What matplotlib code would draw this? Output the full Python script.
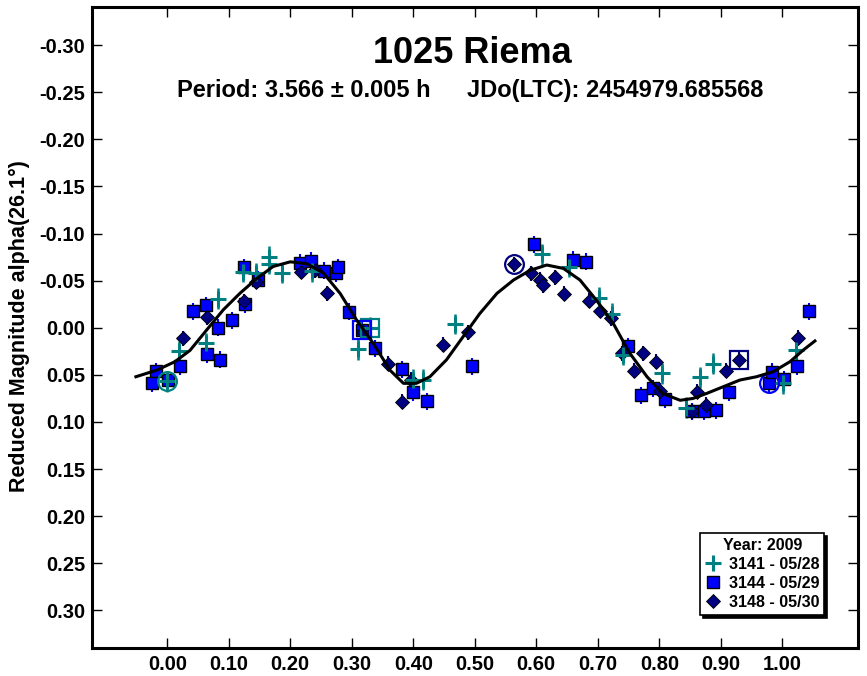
import matplotlib
matplotlib.use('Agg')
import matplotlib.pyplot as plt
from matplotlib.lines import Line2D
from matplotlib.ticker import FormatStrFormatter

# 3141 - 05/28 (teal plus)
ph_3141 = [0.000, 0.0195, 0.063, 0.082, 0.1225, 0.144, 0.165, 0.165, 0.186, 0.235,
           0.310, 0.330, 0.400, 0.416, 0.468, 0.610, 0.653, 0.702, 0.7235, 0.741,
           0.804, 0.8435, 0.866, 0.887, 1.0016, 1.023]
mag_3141 = [0.057, 0.025, 0.0166, -0.031, -0.0595, -0.058, -0.0754, -0.068, -0.058, -0.060,
            0.023, 0.000, 0.055, 0.055, -0.004, -0.078, -0.065, -0.032, -0.015, 0.029,
            0.0485, 0.085, 0.0527, 0.038, 0.059, 0.0237]
err_3141 = 0.011

# 3144 - 05/29 (blue square)
ph_3144 = [-0.019, -0.025, 0.0017, 0.021, 0.042, 0.063, 0.083, 0.065, 0.085, 0.106,
           0.126, 0.124, 0.147, 0.215, 0.234, 0.255, 0.275, 0.278, 0.296, 0.316,
           0.338, 0.381, 0.400, 0.422, 0.495, 0.597, 0.659, 0.680, 0.7495, 0.770,
           0.7895, 0.810, 0.853, 0.872, 0.892, 0.914, 0.978, 0.983, 1.003, 1.0245, 1.044]
mag_3144 = [0.046, 0.059, 0.0555, 0.0407, -0.0177, -0.024, 0.000, 0.028, 0.034, -0.008,
            -0.025, -0.064, -0.051, -0.069, -0.071, -0.0605, -0.058, -0.064, -0.017, 0.0024,
            0.022, 0.044, 0.0686, 0.078, 0.0407, -0.0886, -0.072, -0.070, 0.0194, 0.0715,
            0.064, 0.076, 0.0885, 0.0885, 0.0874, 0.0686, 0.059, 0.0467, 0.0545, 0.0407, -0.0177]
err_3144 = 0.009

# 3148 - 05/30 (navy diamond)
ph_3148 = [0.025, 0.064, 0.125, 0.145, 0.2175, 0.240, 0.259, 0.319, 0.359, 0.381,
           0.397, 0.449, 0.489, 0.564, 0.591, 0.606, 0.611, 0.630, 0.645, 0.686,
           0.704, 0.721, 0.740, 0.759, 0.774, 0.7945, 0.801, 0.853, 0.862, 0.876,
           0.908, 0.930, 1.025]
mag_3148 = [0.011, -0.011, -0.028, -0.049, -0.0595, -0.061, -0.0365, 0.004, 0.038, 0.0786,
            0.055, 0.018, 0.005, -0.0676, -0.058, -0.051, -0.045, -0.0535, -0.036, -0.0287,
            -0.018, -0.010, 0.027, 0.0456, 0.027, 0.036, 0.067, 0.0885, 0.068, 0.082,
            0.0456, 0.034, 0.0106]
err_3148 = 0.008

# first / last point of each session
first_pts = {'3141': (0.000, 0.057), '3144': (0.978, 0.059), '3148': (0.564, -0.0676)}
last_pts = {'3141': (0.330, 0.000), '3144': (0.316, 0.0024), '3148': (0.930, 0.034)}

# fourier fit curve
curve_ph = [-0.051, -0.017, 0.0125, 0.037, 0.064, 0.091, 0.118, 0.145, 0.172, 0.200,
            0.227, 0.254, 0.281, 0.308, 0.335, 0.362, 0.384, 0.405, 0.427, 0.454,
            0.481, 0.508, 0.536, 0.563, 0.590, 0.617, 0.644, 0.671, 0.698, 0.725,
            0.752, 0.780, 0.806, 0.834, 0.855, 0.877, 0.904, 0.931, 0.958, 0.985,
            1.0125, 1.034, 1.053]
curve_mag = [0.052, 0.045, 0.036, 0.024, 0.0024, -0.019, -0.0365, -0.052, -0.065, -0.070,
             -0.068, -0.058, -0.0365, -0.008, 0.0166, 0.045, 0.059, 0.059, 0.052, 0.034,
             0.0095, -0.015, -0.0365, -0.0507, -0.061, -0.0666, -0.063, -0.0507, -0.029, -0.0047,
             0.027, 0.052, 0.070, 0.077, 0.075, 0.0697, 0.0626, 0.0555, 0.052, 0.0467,
             0.036, 0.0237, 0.014]

teal = '#008080'
blue = '#0000ff'
navy = '#000080'
colors = {'3141': teal, '3144': blue, '3148': navy}

plt.rcParams['font.family'] = 'Liberation Sans'
plt.rcParams['font.weight'] = 'bold'

fig = plt.figure(figsize=(8.67, 6.76), dpi=100)
ax = fig.add_axes([0.1061, 0.0414, 0.8835, 0.9482])

ax.errorbar(ph_3144, mag_3144, yerr=err_3144, fmt='s', ms=8.6, mfc=blue, mec='black',
            mew=1, ecolor=blue, elinewidth=1.5, capsize=0, zorder=3)
ax.errorbar(ph_3148, mag_3148, yerr=err_3148, fmt='D', ms=7, mfc=navy, mec='black',
            mew=0.6, ecolor=navy, elinewidth=1.5, capsize=0, zorder=3)
ax.errorbar(ph_3141, mag_3141, yerr=err_3141, fmt='+', ms=11, mew=2.2, color=teal,
            ecolor=teal, elinewidth=1.8, capsize=0, zorder=3)

for k in first_pts:
    ax.plot(*first_pts[k], 'o', mfc='none', mec=colors[k], ms=13.5, mew=1.6, zorder=4)
    ax.plot(*last_pts[k], 's', mfc='none', mec=colors[k], ms=13.5, mew=1.6, zorder=4)

ax.plot(curve_ph, curve_mag, color='black', lw=2.2, zorder=5)

ax.set_xlim(-0.1224, 1.123)
ax.set_ylim(0.340, -0.3405)
ax.set_xticks([i / 10 for i in range(11)])
ax.set_yticks([i / 100 for i in range(-30, 31, 5)])
ax.xaxis.set_major_formatter(FormatStrFormatter('%.2f'))
ax.yaxis.set_major_formatter(FormatStrFormatter('%.2f'))
ax.tick_params(direction='in', length=7.5, width=1, top=True, right=True,
               labelsize=14.5, pad=5)
for s in ax.spines.values():
    s.set_linewidth(2.2)

fig.text(472 / 867, 1 - 63 / 676, '1025 Riema', ha='center', va='baseline',
         fontsize=26, fontweight='bold')
fig.text(177 / 867, 1 - 97 / 676, 'Period: 3.566 \u00b1 0.005 h', ha='left',
         va='baseline', fontsize=17, fontweight='bold')
fig.text(467 / 867, 1 - 97 / 676, 'JDo(LTC): 2454979.685568', ha='left',
         va='baseline', fontsize=17, fontweight='bold')
fig.text(19 / 867, 1 - 326 / 676, 'Reduced Magnitude alpha(26.1\u00b0)', rotation=90,
         ha='center', va='center', fontsize=15.5, fontweight='bold')

handles = [
    Line2D([], [], ls='none', marker='+', ms=11, mew=2.2, color=teal),
    Line2D([], [], ls='none', marker='s', ms=8.6, mfc=blue, mec='black', mew=1),
    Line2D([], [], ls='none', marker='D', ms=7, mfc=navy, mec='black', mew=0.6),
]
labels = ['3141 - 05/28', '3144 - 05/29', '3148 - 05/30']
leg = ax.legend(handles, labels, title='Year: 2009', loc='upper left',
                bbox_to_anchor=(0.794, 0.179), frameon=True, fancybox=False,
                shadow={'color': 'black', 'alpha': 1}, edgecolor='black',
                framealpha=1, prop={'size': 11.5, 'weight': 'bold'},
                title_fontproperties={'size': 11.5, 'weight': 'bold'},
                handlelength=1.0, handletextpad=0.5, borderpad=0.3,
                labelspacing=0.25, borderaxespad=0)
leg.get_frame().set_linewidth(1.2)

fig.savefig('out.png', dpi=100)
